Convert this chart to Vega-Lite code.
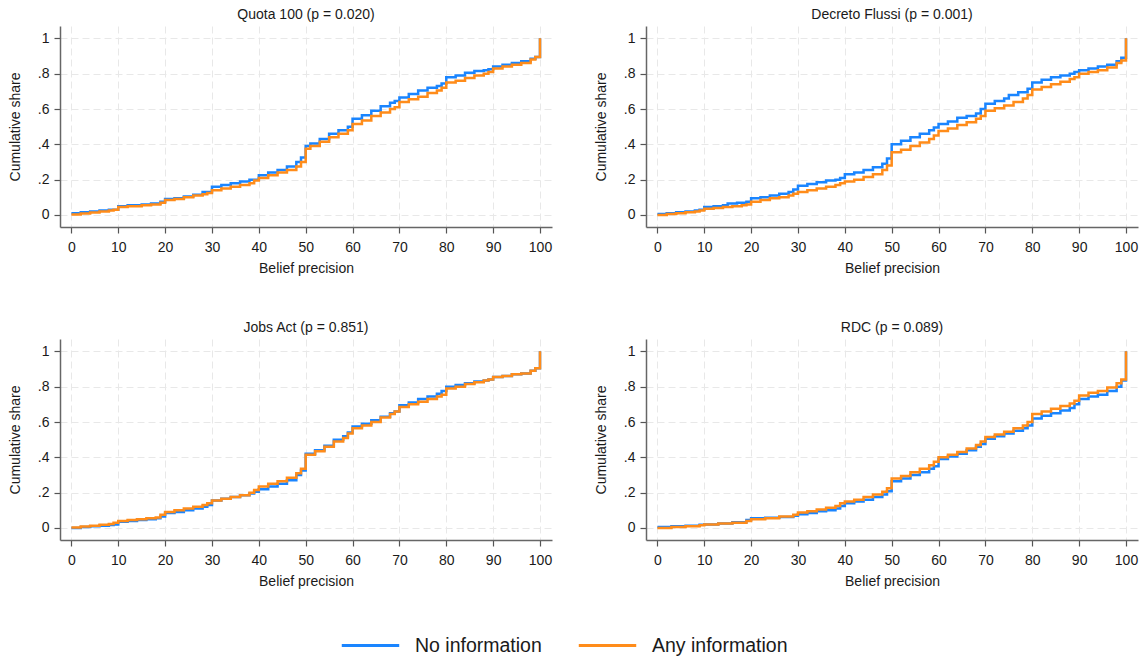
{
"$schema": "https://vega.github.io/schema/vega-lite/v6.json",
"padding": {"left": 8, "top": 8, "right": 5, "bottom": 5},
"bounds": "flush",
"background": "white",
"datasets": {
"pts": [
{"t":"Quota 100 (p = 0.020)","g":"No information","x":0,"y":0.01},{"t":"Quota 100 (p = 0.020)","g":"No information","x":2,"y":0.015},{"t":"Quota 100 (p = 0.020)","g":"No information","x":4,"y":0.02},{"t":"Quota 100 (p = 0.020)","g":"No information","x":6,"y":0.025},{"t":"Quota 100 (p = 0.020)","g":"No information","x":8,"y":0.03},{"t":"Quota 100 (p = 0.020)","g":"No information","x":10,"y":0.05},{"t":"Quota 100 (p = 0.020)","g":"No information","x":12,"y":0.055},{"t":"Quota 100 (p = 0.020)","g":"No information","x":15,"y":0.06},{"t":"Quota 100 (p = 0.020)","g":"No information","x":17,"y":0.065},{"t":"Quota 100 (p = 0.020)","g":"No information","x":19,"y":0.075},{"t":"Quota 100 (p = 0.020)","g":"No information","x":20,"y":0.09},{"t":"Quota 100 (p = 0.020)","g":"No information","x":22,"y":0.095},{"t":"Quota 100 (p = 0.020)","g":"No information","x":24,"y":0.105},{"t":"Quota 100 (p = 0.020)","g":"No information","x":26,"y":0.115},{"t":"Quota 100 (p = 0.020)","g":"No information","x":28,"y":0.13},{"t":"Quota 100 (p = 0.020)","g":"No information","x":30,"y":0.16},{"t":"Quota 100 (p = 0.020)","g":"No information","x":32,"y":0.17},{"t":"Quota 100 (p = 0.020)","g":"No information","x":34,"y":0.18},{"t":"Quota 100 (p = 0.020)","g":"No information","x":36,"y":0.19},{"t":"Quota 100 (p = 0.020)","g":"No information","x":38,"y":0.2},{"t":"Quota 100 (p = 0.020)","g":"No information","x":40,"y":0.225},{"t":"Quota 100 (p = 0.020)","g":"No information","x":42,"y":0.24},{"t":"Quota 100 (p = 0.020)","g":"No information","x":44,"y":0.255},{"t":"Quota 100 (p = 0.020)","g":"No information","x":46,"y":0.275},{"t":"Quota 100 (p = 0.020)","g":"No information","x":48,"y":0.3},{"t":"Quota 100 (p = 0.020)","g":"No information","x":49,"y":0.325},{"t":"Quota 100 (p = 0.020)","g":"No information","x":50,"y":0.39},{"t":"Quota 100 (p = 0.020)","g":"No information","x":51,"y":0.405},{"t":"Quota 100 (p = 0.020)","g":"No information","x":53,"y":0.43},{"t":"Quota 100 (p = 0.020)","g":"No information","x":55,"y":0.46},{"t":"Quota 100 (p = 0.020)","g":"No information","x":57,"y":0.48},{"t":"Quota 100 (p = 0.020)","g":"No information","x":59,"y":0.5},{"t":"Quota 100 (p = 0.020)","g":"No information","x":60,"y":0.545},{"t":"Quota 100 (p = 0.020)","g":"No information","x":62,"y":0.565},{"t":"Quota 100 (p = 0.020)","g":"No information","x":64,"y":0.59},{"t":"Quota 100 (p = 0.020)","g":"No information","x":66,"y":0.615},{"t":"Quota 100 (p = 0.020)","g":"No information","x":68,"y":0.635},{"t":"Quota 100 (p = 0.020)","g":"No information","x":69,"y":0.645},{"t":"Quota 100 (p = 0.020)","g":"No information","x":70,"y":0.665},{"t":"Quota 100 (p = 0.020)","g":"No information","x":72,"y":0.685},{"t":"Quota 100 (p = 0.020)","g":"No information","x":74,"y":0.705},{"t":"Quota 100 (p = 0.020)","g":"No information","x":76,"y":0.72},{"t":"Quota 100 (p = 0.020)","g":"No information","x":78,"y":0.73},{"t":"Quota 100 (p = 0.020)","g":"No information","x":79,"y":0.745},{"t":"Quota 100 (p = 0.020)","g":"No information","x":80,"y":0.78},{"t":"Quota 100 (p = 0.020)","g":"No information","x":82,"y":0.79},{"t":"Quota 100 (p = 0.020)","g":"No information","x":84,"y":0.805},{"t":"Quota 100 (p = 0.020)","g":"No information","x":86,"y":0.815},{"t":"Quota 100 (p = 0.020)","g":"No information","x":88,"y":0.82},{"t":"Quota 100 (p = 0.020)","g":"No information","x":89,"y":0.825},{"t":"Quota 100 (p = 0.020)","g":"No information","x":90,"y":0.84},{"t":"Quota 100 (p = 0.020)","g":"No information","x":92,"y":0.85},{"t":"Quota 100 (p = 0.020)","g":"No information","x":94,"y":0.86},{"t":"Quota 100 (p = 0.020)","g":"No information","x":96,"y":0.87},{"t":"Quota 100 (p = 0.020)","g":"No information","x":98,"y":0.885},{"t":"Quota 100 (p = 0.020)","g":"No information","x":99,"y":0.895},{"t":"Quota 100 (p = 0.020)","g":"No information","x":100,"y":1},
{"t":"Decreto Flussi (p = 0.001)","g":"No information","x":0,"y":0.005},{"t":"Decreto Flussi (p = 0.001)","g":"No information","x":2,"y":0.01},{"t":"Decreto Flussi (p = 0.001)","g":"No information","x":4,"y":0.015},{"t":"Decreto Flussi (p = 0.001)","g":"No information","x":6,"y":0.02},{"t":"Decreto Flussi (p = 0.001)","g":"No information","x":8,"y":0.025},{"t":"Decreto Flussi (p = 0.001)","g":"No information","x":9,"y":0.03},{"t":"Decreto Flussi (p = 0.001)","g":"No information","x":10,"y":0.045},{"t":"Decreto Flussi (p = 0.001)","g":"No information","x":12,"y":0.05},{"t":"Decreto Flussi (p = 0.001)","g":"No information","x":14,"y":0.055},{"t":"Decreto Flussi (p = 0.001)","g":"No information","x":15,"y":0.065},{"t":"Decreto Flussi (p = 0.001)","g":"No information","x":17,"y":0.07},{"t":"Decreto Flussi (p = 0.001)","g":"No information","x":19,"y":0.075},{"t":"Decreto Flussi (p = 0.001)","g":"No information","x":20,"y":0.095},{"t":"Decreto Flussi (p = 0.001)","g":"No information","x":22,"y":0.1},{"t":"Decreto Flussi (p = 0.001)","g":"No information","x":24,"y":0.11},{"t":"Decreto Flussi (p = 0.001)","g":"No information","x":26,"y":0.12},{"t":"Decreto Flussi (p = 0.001)","g":"No information","x":28,"y":0.13},{"t":"Decreto Flussi (p = 0.001)","g":"No information","x":29,"y":0.145},{"t":"Decreto Flussi (p = 0.001)","g":"No information","x":30,"y":0.165},{"t":"Decreto Flussi (p = 0.001)","g":"No information","x":32,"y":0.175},{"t":"Decreto Flussi (p = 0.001)","g":"No information","x":34,"y":0.185},{"t":"Decreto Flussi (p = 0.001)","g":"No information","x":36,"y":0.195},{"t":"Decreto Flussi (p = 0.001)","g":"No information","x":38,"y":0.2},{"t":"Decreto Flussi (p = 0.001)","g":"No information","x":39,"y":0.21},{"t":"Decreto Flussi (p = 0.001)","g":"No information","x":40,"y":0.23},{"t":"Decreto Flussi (p = 0.001)","g":"No information","x":42,"y":0.24},{"t":"Decreto Flussi (p = 0.001)","g":"No information","x":44,"y":0.255},{"t":"Decreto Flussi (p = 0.001)","g":"No information","x":46,"y":0.27},{"t":"Decreto Flussi (p = 0.001)","g":"No information","x":48,"y":0.29},{"t":"Decreto Flussi (p = 0.001)","g":"No information","x":49,"y":0.32},{"t":"Decreto Flussi (p = 0.001)","g":"No information","x":50,"y":0.4},{"t":"Decreto Flussi (p = 0.001)","g":"No information","x":52,"y":0.42},{"t":"Decreto Flussi (p = 0.001)","g":"No information","x":54,"y":0.44},{"t":"Decreto Flussi (p = 0.001)","g":"No information","x":56,"y":0.46},{"t":"Decreto Flussi (p = 0.001)","g":"No information","x":58,"y":0.48},{"t":"Decreto Flussi (p = 0.001)","g":"No information","x":59,"y":0.495},{"t":"Decreto Flussi (p = 0.001)","g":"No information","x":60,"y":0.515},{"t":"Decreto Flussi (p = 0.001)","g":"No information","x":62,"y":0.53},{"t":"Decreto Flussi (p = 0.001)","g":"No information","x":64,"y":0.55},{"t":"Decreto Flussi (p = 0.001)","g":"No information","x":66,"y":0.56},{"t":"Decreto Flussi (p = 0.001)","g":"No information","x":68,"y":0.575},{"t":"Decreto Flussi (p = 0.001)","g":"No information","x":69,"y":0.6},{"t":"Decreto Flussi (p = 0.001)","g":"No information","x":70,"y":0.63},{"t":"Decreto Flussi (p = 0.001)","g":"No information","x":72,"y":0.645},{"t":"Decreto Flussi (p = 0.001)","g":"No information","x":74,"y":0.66},{"t":"Decreto Flussi (p = 0.001)","g":"No information","x":75,"y":0.68},{"t":"Decreto Flussi (p = 0.001)","g":"No information","x":77,"y":0.695},{"t":"Decreto Flussi (p = 0.001)","g":"No information","x":79,"y":0.715},{"t":"Decreto Flussi (p = 0.001)","g":"No information","x":80,"y":0.75},{"t":"Decreto Flussi (p = 0.001)","g":"No information","x":82,"y":0.765},{"t":"Decreto Flussi (p = 0.001)","g":"No information","x":84,"y":0.78},{"t":"Decreto Flussi (p = 0.001)","g":"No information","x":86,"y":0.79},{"t":"Decreto Flussi (p = 0.001)","g":"No information","x":88,"y":0.8},{"t":"Decreto Flussi (p = 0.001)","g":"No information","x":89,"y":0.81},{"t":"Decreto Flussi (p = 0.001)","g":"No information","x":90,"y":0.82},{"t":"Decreto Flussi (p = 0.001)","g":"No information","x":92,"y":0.83},{"t":"Decreto Flussi (p = 0.001)","g":"No information","x":94,"y":0.84},{"t":"Decreto Flussi (p = 0.001)","g":"No information","x":96,"y":0.85},{"t":"Decreto Flussi (p = 0.001)","g":"No information","x":98,"y":0.87},{"t":"Decreto Flussi (p = 0.001)","g":"No information","x":99,"y":0.89},{"t":"Decreto Flussi (p = 0.001)","g":"No information","x":100,"y":1},
{"t":"Jobs Act (p = 0.851)","g":"No information","x":0,"y":0.0},{"t":"Jobs Act (p = 0.851)","g":"No information","x":2,"y":0.005},{"t":"Jobs Act (p = 0.851)","g":"No information","x":4,"y":0.01},{"t":"Jobs Act (p = 0.851)","g":"No information","x":6,"y":0.013},{"t":"Jobs Act (p = 0.851)","g":"No information","x":8,"y":0.017},{"t":"Jobs Act (p = 0.851)","g":"No information","x":9,"y":0.02},{"t":"Jobs Act (p = 0.851)","g":"No information","x":10,"y":0.035},{"t":"Jobs Act (p = 0.851)","g":"No information","x":12,"y":0.04},{"t":"Jobs Act (p = 0.851)","g":"No information","x":14,"y":0.045},{"t":"Jobs Act (p = 0.851)","g":"No information","x":16,"y":0.05},{"t":"Jobs Act (p = 0.851)","g":"No information","x":18,"y":0.055},{"t":"Jobs Act (p = 0.851)","g":"No information","x":19,"y":0.065},{"t":"Jobs Act (p = 0.851)","g":"No information","x":20,"y":0.085},{"t":"Jobs Act (p = 0.851)","g":"No information","x":22,"y":0.09},{"t":"Jobs Act (p = 0.851)","g":"No information","x":24,"y":0.1},{"t":"Jobs Act (p = 0.851)","g":"No information","x":26,"y":0.11},{"t":"Jobs Act (p = 0.851)","g":"No information","x":28,"y":0.12},{"t":"Jobs Act (p = 0.851)","g":"No information","x":29,"y":0.13},{"t":"Jobs Act (p = 0.851)","g":"No information","x":30,"y":0.155},{"t":"Jobs Act (p = 0.851)","g":"No information","x":32,"y":0.165},{"t":"Jobs Act (p = 0.851)","g":"No information","x":34,"y":0.175},{"t":"Jobs Act (p = 0.851)","g":"No information","x":36,"y":0.185},{"t":"Jobs Act (p = 0.851)","g":"No information","x":38,"y":0.195},{"t":"Jobs Act (p = 0.851)","g":"No information","x":39,"y":0.205},{"t":"Jobs Act (p = 0.851)","g":"No information","x":40,"y":0.22},{"t":"Jobs Act (p = 0.851)","g":"No information","x":42,"y":0.235},{"t":"Jobs Act (p = 0.851)","g":"No information","x":44,"y":0.25},{"t":"Jobs Act (p = 0.851)","g":"No information","x":46,"y":0.27},{"t":"Jobs Act (p = 0.851)","g":"No information","x":48,"y":0.3},{"t":"Jobs Act (p = 0.851)","g":"No information","x":49,"y":0.325},{"t":"Jobs Act (p = 0.851)","g":"No information","x":50,"y":0.42},{"t":"Jobs Act (p = 0.851)","g":"No information","x":52,"y":0.44},{"t":"Jobs Act (p = 0.851)","g":"No information","x":54,"y":0.465},{"t":"Jobs Act (p = 0.851)","g":"No information","x":56,"y":0.5},{"t":"Jobs Act (p = 0.851)","g":"No information","x":58,"y":0.52},{"t":"Jobs Act (p = 0.851)","g":"No information","x":59,"y":0.54},{"t":"Jobs Act (p = 0.851)","g":"No information","x":60,"y":0.575},{"t":"Jobs Act (p = 0.851)","g":"No information","x":62,"y":0.59},{"t":"Jobs Act (p = 0.851)","g":"No information","x":64,"y":0.61},{"t":"Jobs Act (p = 0.851)","g":"No information","x":66,"y":0.63},{"t":"Jobs Act (p = 0.851)","g":"No information","x":68,"y":0.65},{"t":"Jobs Act (p = 0.851)","g":"No information","x":69,"y":0.66},{"t":"Jobs Act (p = 0.851)","g":"No information","x":70,"y":0.695},{"t":"Jobs Act (p = 0.851)","g":"No information","x":72,"y":0.71},{"t":"Jobs Act (p = 0.851)","g":"No information","x":74,"y":0.73},{"t":"Jobs Act (p = 0.851)","g":"No information","x":76,"y":0.745},{"t":"Jobs Act (p = 0.851)","g":"No information","x":78,"y":0.76},{"t":"Jobs Act (p = 0.851)","g":"No information","x":79,"y":0.775},{"t":"Jobs Act (p = 0.851)","g":"No information","x":80,"y":0.8},{"t":"Jobs Act (p = 0.851)","g":"No information","x":82,"y":0.81},{"t":"Jobs Act (p = 0.851)","g":"No information","x":84,"y":0.82},{"t":"Jobs Act (p = 0.851)","g":"No information","x":86,"y":0.83},{"t":"Jobs Act (p = 0.851)","g":"No information","x":88,"y":0.835},{"t":"Jobs Act (p = 0.851)","g":"No information","x":89,"y":0.84},{"t":"Jobs Act (p = 0.851)","g":"No information","x":90,"y":0.855},{"t":"Jobs Act (p = 0.851)","g":"No information","x":92,"y":0.86},{"t":"Jobs Act (p = 0.851)","g":"No information","x":94,"y":0.87},{"t":"Jobs Act (p = 0.851)","g":"No information","x":96,"y":0.875},{"t":"Jobs Act (p = 0.851)","g":"No information","x":98,"y":0.89},{"t":"Jobs Act (p = 0.851)","g":"No information","x":99,"y":0.905},{"t":"Jobs Act (p = 0.851)","g":"No information","x":100,"y":1},
{"t":"RDC (p = 0.089)","g":"No information","x":0,"y":0.005},{"t":"RDC (p = 0.089)","g":"No information","x":3,"y":0.01},{"t":"RDC (p = 0.089)","g":"No information","x":6,"y":0.013},{"t":"RDC (p = 0.089)","g":"No information","x":9,"y":0.018},{"t":"RDC (p = 0.089)","g":"No information","x":10,"y":0.02},{"t":"RDC (p = 0.089)","g":"No information","x":13,"y":0.025},{"t":"RDC (p = 0.089)","g":"No information","x":16,"y":0.032},{"t":"RDC (p = 0.089)","g":"No information","x":19,"y":0.045},{"t":"RDC (p = 0.089)","g":"No information","x":20,"y":0.055},{"t":"RDC (p = 0.089)","g":"No information","x":23,"y":0.058},{"t":"RDC (p = 0.089)","g":"No information","x":26,"y":0.062},{"t":"RDC (p = 0.089)","g":"No information","x":29,"y":0.07},{"t":"RDC (p = 0.089)","g":"No information","x":30,"y":0.078},{"t":"RDC (p = 0.089)","g":"No information","x":32,"y":0.085},{"t":"RDC (p = 0.089)","g":"No information","x":34,"y":0.095},{"t":"RDC (p = 0.089)","g":"No information","x":36,"y":0.1},{"t":"RDC (p = 0.089)","g":"No information","x":38,"y":0.11},{"t":"RDC (p = 0.089)","g":"No information","x":39,"y":0.125},{"t":"RDC (p = 0.089)","g":"No information","x":40,"y":0.14},{"t":"RDC (p = 0.089)","g":"No information","x":42,"y":0.15},{"t":"RDC (p = 0.089)","g":"No information","x":44,"y":0.16},{"t":"RDC (p = 0.089)","g":"No information","x":46,"y":0.175},{"t":"RDC (p = 0.089)","g":"No information","x":48,"y":0.19},{"t":"RDC (p = 0.089)","g":"No information","x":49,"y":0.208},{"t":"RDC (p = 0.089)","g":"No information","x":50,"y":0.265},{"t":"RDC (p = 0.089)","g":"No information","x":52,"y":0.28},{"t":"RDC (p = 0.089)","g":"No information","x":54,"y":0.3},{"t":"RDC (p = 0.089)","g":"No information","x":56,"y":0.315},{"t":"RDC (p = 0.089)","g":"No information","x":58,"y":0.335},{"t":"RDC (p = 0.089)","g":"No information","x":59,"y":0.35},{"t":"RDC (p = 0.089)","g":"No information","x":60,"y":0.39},{"t":"RDC (p = 0.089)","g":"No information","x":62,"y":0.405},{"t":"RDC (p = 0.089)","g":"No information","x":64,"y":0.42},{"t":"RDC (p = 0.089)","g":"No information","x":66,"y":0.44},{"t":"RDC (p = 0.089)","g":"No information","x":68,"y":0.46},{"t":"RDC (p = 0.089)","g":"No information","x":69,"y":0.475},{"t":"RDC (p = 0.089)","g":"No information","x":70,"y":0.505},{"t":"RDC (p = 0.089)","g":"No information","x":72,"y":0.52},{"t":"RDC (p = 0.089)","g":"No information","x":74,"y":0.535},{"t":"RDC (p = 0.089)","g":"No information","x":76,"y":0.55},{"t":"RDC (p = 0.089)","g":"No information","x":78,"y":0.565},{"t":"RDC (p = 0.089)","g":"No information","x":79,"y":0.58},{"t":"RDC (p = 0.089)","g":"No information","x":80,"y":0.62},{"t":"RDC (p = 0.089)","g":"No information","x":82,"y":0.635},{"t":"RDC (p = 0.089)","g":"No information","x":84,"y":0.65},{"t":"RDC (p = 0.089)","g":"No information","x":86,"y":0.665},{"t":"RDC (p = 0.089)","g":"No information","x":88,"y":0.68},{"t":"RDC (p = 0.089)","g":"No information","x":89,"y":0.7},{"t":"RDC (p = 0.089)","g":"No information","x":90,"y":0.73},{"t":"RDC (p = 0.089)","g":"No information","x":92,"y":0.745},{"t":"RDC (p = 0.089)","g":"No information","x":94,"y":0.755},{"t":"RDC (p = 0.089)","g":"No information","x":96,"y":0.775},{"t":"RDC (p = 0.089)","g":"No information","x":98,"y":0.8},{"t":"RDC (p = 0.089)","g":"No information","x":99,"y":0.835},{"t":"RDC (p = 0.089)","g":"No information","x":100,"y":1},
{"t":"Quota 100 (p = 0.020)","g":"Any information","x":0,"y":0.003},{"t":"Quota 100 (p = 0.020)","g":"Any information","x":2,"y":0.008},{"t":"Quota 100 (p = 0.020)","g":"Any information","x":4,"y":0.014},{"t":"Quota 100 (p = 0.020)","g":"Any information","x":6,"y":0.02},{"t":"Quota 100 (p = 0.020)","g":"Any information","x":8,"y":0.025},{"t":"Quota 100 (p = 0.020)","g":"Any information","x":9,"y":0.03},{"t":"Quota 100 (p = 0.020)","g":"Any information","x":10,"y":0.045},{"t":"Quota 100 (p = 0.020)","g":"Any information","x":12,"y":0.05},{"t":"Quota 100 (p = 0.020)","g":"Any information","x":15,"y":0.055},{"t":"Quota 100 (p = 0.020)","g":"Any information","x":17,"y":0.06},{"t":"Quota 100 (p = 0.020)","g":"Any information","x":19,"y":0.07},{"t":"Quota 100 (p = 0.020)","g":"Any information","x":20,"y":0.085},{"t":"Quota 100 (p = 0.020)","g":"Any information","x":22,"y":0.09},{"t":"Quota 100 (p = 0.020)","g":"Any information","x":24,"y":0.1},{"t":"Quota 100 (p = 0.020)","g":"Any information","x":26,"y":0.11},{"t":"Quota 100 (p = 0.020)","g":"Any information","x":28,"y":0.118},{"t":"Quota 100 (p = 0.020)","g":"Any information","x":29,"y":0.125},{"t":"Quota 100 (p = 0.020)","g":"Any information","x":30,"y":0.14},{"t":"Quota 100 (p = 0.020)","g":"Any information","x":32,"y":0.15},{"t":"Quota 100 (p = 0.020)","g":"Any information","x":34,"y":0.16},{"t":"Quota 100 (p = 0.020)","g":"Any information","x":36,"y":0.17},{"t":"Quota 100 (p = 0.020)","g":"Any information","x":38,"y":0.18},{"t":"Quota 100 (p = 0.020)","g":"Any information","x":39,"y":0.195},{"t":"Quota 100 (p = 0.020)","g":"Any information","x":40,"y":0.21},{"t":"Quota 100 (p = 0.020)","g":"Any information","x":42,"y":0.225},{"t":"Quota 100 (p = 0.020)","g":"Any information","x":44,"y":0.24},{"t":"Quota 100 (p = 0.020)","g":"Any information","x":46,"y":0.255},{"t":"Quota 100 (p = 0.020)","g":"Any information","x":48,"y":0.275},{"t":"Quota 100 (p = 0.020)","g":"Any information","x":49,"y":0.3},{"t":"Quota 100 (p = 0.020)","g":"Any information","x":50,"y":0.375},{"t":"Quota 100 (p = 0.020)","g":"Any information","x":51,"y":0.39},{"t":"Quota 100 (p = 0.020)","g":"Any information","x":53,"y":0.415},{"t":"Quota 100 (p = 0.020)","g":"Any information","x":55,"y":0.44},{"t":"Quota 100 (p = 0.020)","g":"Any information","x":57,"y":0.46},{"t":"Quota 100 (p = 0.020)","g":"Any information","x":59,"y":0.48},{"t":"Quota 100 (p = 0.020)","g":"Any information","x":60,"y":0.515},{"t":"Quota 100 (p = 0.020)","g":"Any information","x":62,"y":0.535},{"t":"Quota 100 (p = 0.020)","g":"Any information","x":64,"y":0.56},{"t":"Quota 100 (p = 0.020)","g":"Any information","x":66,"y":0.58},{"t":"Quota 100 (p = 0.020)","g":"Any information","x":68,"y":0.6},{"t":"Quota 100 (p = 0.020)","g":"Any information","x":69,"y":0.61},{"t":"Quota 100 (p = 0.020)","g":"Any information","x":70,"y":0.64},{"t":"Quota 100 (p = 0.020)","g":"Any information","x":72,"y":0.655},{"t":"Quota 100 (p = 0.020)","g":"Any information","x":74,"y":0.67},{"t":"Quota 100 (p = 0.020)","g":"Any information","x":76,"y":0.69},{"t":"Quota 100 (p = 0.020)","g":"Any information","x":78,"y":0.705},{"t":"Quota 100 (p = 0.020)","g":"Any information","x":79,"y":0.72},{"t":"Quota 100 (p = 0.020)","g":"Any information","x":80,"y":0.75},{"t":"Quota 100 (p = 0.020)","g":"Any information","x":82,"y":0.76},{"t":"Quota 100 (p = 0.020)","g":"Any information","x":84,"y":0.775},{"t":"Quota 100 (p = 0.020)","g":"Any information","x":86,"y":0.79},{"t":"Quota 100 (p = 0.020)","g":"Any information","x":88,"y":0.8},{"t":"Quota 100 (p = 0.020)","g":"Any information","x":89,"y":0.81},{"t":"Quota 100 (p = 0.020)","g":"Any information","x":90,"y":0.83},{"t":"Quota 100 (p = 0.020)","g":"Any information","x":92,"y":0.84},{"t":"Quota 100 (p = 0.020)","g":"Any information","x":94,"y":0.85},{"t":"Quota 100 (p = 0.020)","g":"Any information","x":96,"y":0.86},{"t":"Quota 100 (p = 0.020)","g":"Any information","x":98,"y":0.88},{"t":"Quota 100 (p = 0.020)","g":"Any information","x":99,"y":0.895},{"t":"Quota 100 (p = 0.020)","g":"Any information","x":100,"y":1},
{"t":"Decreto Flussi (p = 0.001)","g":"Any information","x":0,"y":0.0},{"t":"Decreto Flussi (p = 0.001)","g":"Any information","x":2,"y":0.005},{"t":"Decreto Flussi (p = 0.001)","g":"Any information","x":4,"y":0.01},{"t":"Decreto Flussi (p = 0.001)","g":"Any information","x":6,"y":0.015},{"t":"Decreto Flussi (p = 0.001)","g":"Any information","x":8,"y":0.02},{"t":"Decreto Flussi (p = 0.001)","g":"Any information","x":9,"y":0.025},{"t":"Decreto Flussi (p = 0.001)","g":"Any information","x":10,"y":0.035},{"t":"Decreto Flussi (p = 0.001)","g":"Any information","x":12,"y":0.04},{"t":"Decreto Flussi (p = 0.001)","g":"Any information","x":14,"y":0.045},{"t":"Decreto Flussi (p = 0.001)","g":"Any information","x":16,"y":0.05},{"t":"Decreto Flussi (p = 0.001)","g":"Any information","x":18,"y":0.055},{"t":"Decreto Flussi (p = 0.001)","g":"Any information","x":19,"y":0.06},{"t":"Decreto Flussi (p = 0.001)","g":"Any information","x":20,"y":0.075},{"t":"Decreto Flussi (p = 0.001)","g":"Any information","x":22,"y":0.085},{"t":"Decreto Flussi (p = 0.001)","g":"Any information","x":24,"y":0.095},{"t":"Decreto Flussi (p = 0.001)","g":"Any information","x":26,"y":0.1},{"t":"Decreto Flussi (p = 0.001)","g":"Any information","x":28,"y":0.11},{"t":"Decreto Flussi (p = 0.001)","g":"Any information","x":29,"y":0.12},{"t":"Decreto Flussi (p = 0.001)","g":"Any information","x":30,"y":0.13},{"t":"Decreto Flussi (p = 0.001)","g":"Any information","x":32,"y":0.14},{"t":"Decreto Flussi (p = 0.001)","g":"Any information","x":34,"y":0.15},{"t":"Decreto Flussi (p = 0.001)","g":"Any information","x":36,"y":0.16},{"t":"Decreto Flussi (p = 0.001)","g":"Any information","x":38,"y":0.17},{"t":"Decreto Flussi (p = 0.001)","g":"Any information","x":39,"y":0.18},{"t":"Decreto Flussi (p = 0.001)","g":"Any information","x":40,"y":0.19},{"t":"Decreto Flussi (p = 0.001)","g":"Any information","x":42,"y":0.2},{"t":"Decreto Flussi (p = 0.001)","g":"Any information","x":44,"y":0.215},{"t":"Decreto Flussi (p = 0.001)","g":"Any information","x":46,"y":0.23},{"t":"Decreto Flussi (p = 0.001)","g":"Any information","x":48,"y":0.255},{"t":"Decreto Flussi (p = 0.001)","g":"Any information","x":49,"y":0.28},{"t":"Decreto Flussi (p = 0.001)","g":"Any information","x":50,"y":0.355},{"t":"Decreto Flussi (p = 0.001)","g":"Any information","x":52,"y":0.37},{"t":"Decreto Flussi (p = 0.001)","g":"Any information","x":54,"y":0.39},{"t":"Decreto Flussi (p = 0.001)","g":"Any information","x":56,"y":0.41},{"t":"Decreto Flussi (p = 0.001)","g":"Any information","x":58,"y":0.43},{"t":"Decreto Flussi (p = 0.001)","g":"Any information","x":59,"y":0.45},{"t":"Decreto Flussi (p = 0.001)","g":"Any information","x":60,"y":0.475},{"t":"Decreto Flussi (p = 0.001)","g":"Any information","x":62,"y":0.49},{"t":"Decreto Flussi (p = 0.001)","g":"Any information","x":64,"y":0.51},{"t":"Decreto Flussi (p = 0.001)","g":"Any information","x":66,"y":0.525},{"t":"Decreto Flussi (p = 0.001)","g":"Any information","x":68,"y":0.545},{"t":"Decreto Flussi (p = 0.001)","g":"Any information","x":69,"y":0.56},{"t":"Decreto Flussi (p = 0.001)","g":"Any information","x":70,"y":0.59},{"t":"Decreto Flussi (p = 0.001)","g":"Any information","x":72,"y":0.605},{"t":"Decreto Flussi (p = 0.001)","g":"Any information","x":74,"y":0.62},{"t":"Decreto Flussi (p = 0.001)","g":"Any information","x":76,"y":0.64},{"t":"Decreto Flussi (p = 0.001)","g":"Any information","x":78,"y":0.66},{"t":"Decreto Flussi (p = 0.001)","g":"Any information","x":79,"y":0.68},{"t":"Decreto Flussi (p = 0.001)","g":"Any information","x":80,"y":0.71},{"t":"Decreto Flussi (p = 0.001)","g":"Any information","x":82,"y":0.725},{"t":"Decreto Flussi (p = 0.001)","g":"Any information","x":84,"y":0.74},{"t":"Decreto Flussi (p = 0.001)","g":"Any information","x":86,"y":0.755},{"t":"Decreto Flussi (p = 0.001)","g":"Any information","x":88,"y":0.77},{"t":"Decreto Flussi (p = 0.001)","g":"Any information","x":89,"y":0.78},{"t":"Decreto Flussi (p = 0.001)","g":"Any information","x":90,"y":0.8},{"t":"Decreto Flussi (p = 0.001)","g":"Any information","x":92,"y":0.81},{"t":"Decreto Flussi (p = 0.001)","g":"Any information","x":94,"y":0.82},{"t":"Decreto Flussi (p = 0.001)","g":"Any information","x":96,"y":0.835},{"t":"Decreto Flussi (p = 0.001)","g":"Any information","x":98,"y":0.86},{"t":"Decreto Flussi (p = 0.001)","g":"Any information","x":99,"y":0.875},{"t":"Decreto Flussi (p = 0.001)","g":"Any information","x":100,"y":1},
{"t":"Jobs Act (p = 0.851)","g":"Any information","x":0,"y":0.003},{"t":"Jobs Act (p = 0.851)","g":"Any information","x":2,"y":0.008},{"t":"Jobs Act (p = 0.851)","g":"Any information","x":4,"y":0.013},{"t":"Jobs Act (p = 0.851)","g":"Any information","x":6,"y":0.018},{"t":"Jobs Act (p = 0.851)","g":"Any information","x":8,"y":0.023},{"t":"Jobs Act (p = 0.851)","g":"Any information","x":9,"y":0.03},{"t":"Jobs Act (p = 0.851)","g":"Any information","x":10,"y":0.04},{"t":"Jobs Act (p = 0.851)","g":"Any information","x":12,"y":0.045},{"t":"Jobs Act (p = 0.851)","g":"Any information","x":14,"y":0.05},{"t":"Jobs Act (p = 0.851)","g":"Any information","x":16,"y":0.055},{"t":"Jobs Act (p = 0.851)","g":"Any information","x":18,"y":0.06},{"t":"Jobs Act (p = 0.851)","g":"Any information","x":19,"y":0.075},{"t":"Jobs Act (p = 0.851)","g":"Any information","x":20,"y":0.09},{"t":"Jobs Act (p = 0.851)","g":"Any information","x":22,"y":0.1},{"t":"Jobs Act (p = 0.851)","g":"Any information","x":24,"y":0.11},{"t":"Jobs Act (p = 0.851)","g":"Any information","x":26,"y":0.12},{"t":"Jobs Act (p = 0.851)","g":"Any information","x":28,"y":0.13},{"t":"Jobs Act (p = 0.851)","g":"Any information","x":29,"y":0.14},{"t":"Jobs Act (p = 0.851)","g":"Any information","x":30,"y":0.155},{"t":"Jobs Act (p = 0.851)","g":"Any information","x":32,"y":0.165},{"t":"Jobs Act (p = 0.851)","g":"Any information","x":34,"y":0.175},{"t":"Jobs Act (p = 0.851)","g":"Any information","x":36,"y":0.185},{"t":"Jobs Act (p = 0.851)","g":"Any information","x":38,"y":0.2},{"t":"Jobs Act (p = 0.851)","g":"Any information","x":39,"y":0.215},{"t":"Jobs Act (p = 0.851)","g":"Any information","x":40,"y":0.235},{"t":"Jobs Act (p = 0.851)","g":"Any information","x":42,"y":0.25},{"t":"Jobs Act (p = 0.851)","g":"Any information","x":44,"y":0.265},{"t":"Jobs Act (p = 0.851)","g":"Any information","x":46,"y":0.285},{"t":"Jobs Act (p = 0.851)","g":"Any information","x":48,"y":0.31},{"t":"Jobs Act (p = 0.851)","g":"Any information","x":49,"y":0.335},{"t":"Jobs Act (p = 0.851)","g":"Any information","x":50,"y":0.415},{"t":"Jobs Act (p = 0.851)","g":"Any information","x":52,"y":0.435},{"t":"Jobs Act (p = 0.851)","g":"Any information","x":54,"y":0.46},{"t":"Jobs Act (p = 0.851)","g":"Any information","x":56,"y":0.49},{"t":"Jobs Act (p = 0.851)","g":"Any information","x":58,"y":0.51},{"t":"Jobs Act (p = 0.851)","g":"Any information","x":59,"y":0.535},{"t":"Jobs Act (p = 0.851)","g":"Any information","x":60,"y":0.565},{"t":"Jobs Act (p = 0.851)","g":"Any information","x":62,"y":0.58},{"t":"Jobs Act (p = 0.851)","g":"Any information","x":64,"y":0.6},{"t":"Jobs Act (p = 0.851)","g":"Any information","x":66,"y":0.625},{"t":"Jobs Act (p = 0.851)","g":"Any information","x":68,"y":0.645},{"t":"Jobs Act (p = 0.851)","g":"Any information","x":69,"y":0.66},{"t":"Jobs Act (p = 0.851)","g":"Any information","x":70,"y":0.685},{"t":"Jobs Act (p = 0.851)","g":"Any information","x":72,"y":0.7},{"t":"Jobs Act (p = 0.851)","g":"Any information","x":74,"y":0.715},{"t":"Jobs Act (p = 0.851)","g":"Any information","x":76,"y":0.73},{"t":"Jobs Act (p = 0.851)","g":"Any information","x":78,"y":0.745},{"t":"Jobs Act (p = 0.851)","g":"Any information","x":79,"y":0.755},{"t":"Jobs Act (p = 0.851)","g":"Any information","x":80,"y":0.79},{"t":"Jobs Act (p = 0.851)","g":"Any information","x":82,"y":0.8},{"t":"Jobs Act (p = 0.851)","g":"Any information","x":84,"y":0.815},{"t":"Jobs Act (p = 0.851)","g":"Any information","x":86,"y":0.825},{"t":"Jobs Act (p = 0.851)","g":"Any information","x":88,"y":0.835},{"t":"Jobs Act (p = 0.851)","g":"Any information","x":89,"y":0.84},{"t":"Jobs Act (p = 0.851)","g":"Any information","x":90,"y":0.855},{"t":"Jobs Act (p = 0.851)","g":"Any information","x":92,"y":0.86},{"t":"Jobs Act (p = 0.851)","g":"Any information","x":94,"y":0.87},{"t":"Jobs Act (p = 0.851)","g":"Any information","x":96,"y":0.875},{"t":"Jobs Act (p = 0.851)","g":"Any information","x":98,"y":0.89},{"t":"Jobs Act (p = 0.851)","g":"Any information","x":99,"y":0.905},{"t":"Jobs Act (p = 0.851)","g":"Any information","x":100,"y":1},
{"t":"RDC (p = 0.089)","g":"Any information","x":0,"y":0.0},{"t":"RDC (p = 0.089)","g":"Any information","x":3,"y":0.005},{"t":"RDC (p = 0.089)","g":"Any information","x":6,"y":0.01},{"t":"RDC (p = 0.089)","g":"Any information","x":9,"y":0.015},{"t":"RDC (p = 0.089)","g":"Any information","x":10,"y":0.02},{"t":"RDC (p = 0.089)","g":"Any information","x":13,"y":0.025},{"t":"RDC (p = 0.089)","g":"Any information","x":16,"y":0.03},{"t":"RDC (p = 0.089)","g":"Any information","x":19,"y":0.04},{"t":"RDC (p = 0.089)","g":"Any information","x":20,"y":0.05},{"t":"RDC (p = 0.089)","g":"Any information","x":23,"y":0.055},{"t":"RDC (p = 0.089)","g":"Any information","x":26,"y":0.065},{"t":"RDC (p = 0.089)","g":"Any information","x":29,"y":0.075},{"t":"RDC (p = 0.089)","g":"Any information","x":30,"y":0.088},{"t":"RDC (p = 0.089)","g":"Any information","x":32,"y":0.095},{"t":"RDC (p = 0.089)","g":"Any information","x":34,"y":0.105},{"t":"RDC (p = 0.089)","g":"Any information","x":36,"y":0.115},{"t":"RDC (p = 0.089)","g":"Any information","x":38,"y":0.125},{"t":"RDC (p = 0.089)","g":"Any information","x":39,"y":0.14},{"t":"RDC (p = 0.089)","g":"Any information","x":40,"y":0.15},{"t":"RDC (p = 0.089)","g":"Any information","x":42,"y":0.16},{"t":"RDC (p = 0.089)","g":"Any information","x":44,"y":0.175},{"t":"RDC (p = 0.089)","g":"Any information","x":46,"y":0.19},{"t":"RDC (p = 0.089)","g":"Any information","x":48,"y":0.205},{"t":"RDC (p = 0.089)","g":"Any information","x":49,"y":0.225},{"t":"RDC (p = 0.089)","g":"Any information","x":50,"y":0.28},{"t":"RDC (p = 0.089)","g":"Any information","x":52,"y":0.295},{"t":"RDC (p = 0.089)","g":"Any information","x":54,"y":0.315},{"t":"RDC (p = 0.089)","g":"Any information","x":56,"y":0.335},{"t":"RDC (p = 0.089)","g":"Any information","x":58,"y":0.355},{"t":"RDC (p = 0.089)","g":"Any information","x":59,"y":0.375},{"t":"RDC (p = 0.089)","g":"Any information","x":60,"y":0.4},{"t":"RDC (p = 0.089)","g":"Any information","x":62,"y":0.415},{"t":"RDC (p = 0.089)","g":"Any information","x":64,"y":0.43},{"t":"RDC (p = 0.089)","g":"Any information","x":66,"y":0.45},{"t":"RDC (p = 0.089)","g":"Any information","x":68,"y":0.47},{"t":"RDC (p = 0.089)","g":"Any information","x":69,"y":0.49},{"t":"RDC (p = 0.089)","g":"Any information","x":70,"y":0.515},{"t":"RDC (p = 0.089)","g":"Any information","x":72,"y":0.53},{"t":"RDC (p = 0.089)","g":"Any information","x":74,"y":0.545},{"t":"RDC (p = 0.089)","g":"Any information","x":76,"y":0.565},{"t":"RDC (p = 0.089)","g":"Any information","x":78,"y":0.58},{"t":"RDC (p = 0.089)","g":"Any information","x":79,"y":0.6},{"t":"RDC (p = 0.089)","g":"Any information","x":80,"y":0.645},{"t":"RDC (p = 0.089)","g":"Any information","x":82,"y":0.66},{"t":"RDC (p = 0.089)","g":"Any information","x":84,"y":0.675},{"t":"RDC (p = 0.089)","g":"Any information","x":86,"y":0.69},{"t":"RDC (p = 0.089)","g":"Any information","x":88,"y":0.705},{"t":"RDC (p = 0.089)","g":"Any information","x":89,"y":0.72},{"t":"RDC (p = 0.089)","g":"Any information","x":90,"y":0.75},{"t":"RDC (p = 0.089)","g":"Any information","x":92,"y":0.765},{"t":"RDC (p = 0.089)","g":"Any information","x":94,"y":0.775},{"t":"RDC (p = 0.089)","g":"Any information","x":96,"y":0.795},{"t":"RDC (p = 0.089)","g":"Any information","x":98,"y":0.82},{"t":"RDC (p = 0.089)","g":"Any information","x":99,"y":0.84},{"t":"RDC (p = 0.089)","g":"Any information","x":100,"y":1}
]
},
"data": {"name": "pts"},
"facet": {
  "field": "t", "type": "nominal",
  "sort": ["Quota 100 (p = 0.020)", "Decreto Flussi (p = 0.001)", "Jobs Act (p = 0.851)", "RDC (p = 0.089)"],
  "header": {"title": null, "labelFont": "Liberation Sans", "labelFontSize": 14, "labelColor": "#1a1a1a", "labelPadding": 4}
},
"columns": 2,
"spacing": {"column": 94, "row": 112},
"resolve": {"axis": {"x": "independent", "y": "independent"}},
"spec": {
  "width": 492,
  "height": 201,
  "mark": {"type": "line", "interpolate": "step-after", "strokeWidth": 2.5},
  "encoding": {
    "x": {"field": "x", "type": "quantitative",
      "scale": {"domain": [-2.43, 102.56], "nice": false, "zero": false},
      "axis": {"values": [0,10,20,30,40,50,60,70,80,90,100], "title": "Belief precision"}},
    "y": {"field": "y", "type": "quantitative",
      "scale": {"domain": [-0.068, 1.07], "nice": false, "zero": false},
      "axis": {"values": [0,0.2,0.4,0.6,0.8,1], "title": "Cumulative share",
        "labelExpr": "datum.value == 0 ? '0' : datum.value == 1 ? '1' : replace(format(datum.value, '.1f'), '0.', '.')"}},
    "color": {"field": "g", "type": "nominal",
      "scale": {"domain": ["No information", "Any information"], "range": ["#1a85ff", "#ff8c1a"]},
      "legend": {"title": null, "orient": "none", "direction": "horizontal", "legendX": 280, "legendY": 589,
        "symbolType": "stroke", "symbolSize": 3300, "symbolStrokeWidth": 3,
        "labelFont": "Liberation Sans", "labelFontSize": 19.5, "labelColor": "#1a1a1a",
        "labelOffset": 14, "columnPadding": 30}}
  }
},
"config": {
  "view": {"stroke": null},
  "font": "Liberation Sans",
  "axis": {
    "labelFont": "Liberation Sans", "labelFontSize": 14, "labelColor": "#1a1a1a",
    "titleFont": "Liberation Sans", "titleFontSize": 14, "titleFontWeight": "normal", "titleColor": "#1a1a1a",
    "domainColor": "#666666", "domainWidth": 1.5,
    "tickColor": "#555555", "tickSize": 6, "tickWidth": 1.2,
    "labelPadding": 5,
    "grid": true, "gridColor": "#e8e8e8", "gridDash": [7, 4], "gridWidth": 1
  },
  "axisX": {"titlePadding": 7, "labelPadding": 7},
  "axisY": {"labelAngle": 0, "titlePadding": 15}
}
}
